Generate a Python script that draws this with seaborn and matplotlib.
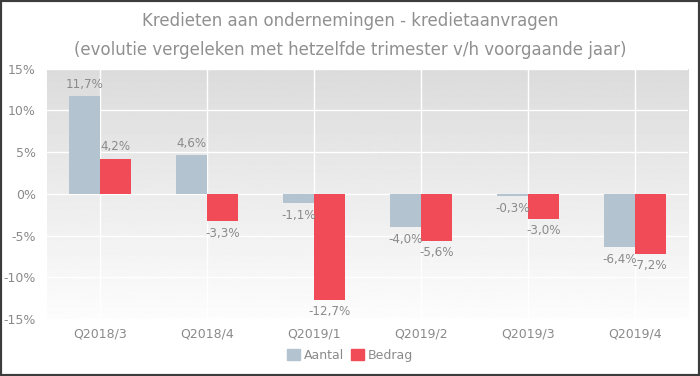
import numpy as np
import pandas as pd
import matplotlib.pyplot as plt
from matplotlib.patches import Rectangle
import seaborn as sns

# data
quarters = ["Q2018/3", "Q2018/4", "Q2019/1", "Q2019/2", "Q2019/3", "Q2019/4"]
aantal = [11.7, 4.6, -1.1, -4.0, -0.3, -6.4]
bedrag = [4.2, -3.3, -12.7, -5.6, -3.0, -7.2]
series = ["Aantal", "Bedrag"]
colors = ["#b4c3d0", "#f04b57"]
y_ticks = [-15, -10, -5, 0, 5, 10, 15]

df = pd.DataFrame({
    "kwartaal": quarters * 2,
    "reeks": ["Aantal"] * len(quarters) + ["Bedrag"] * len(quarters),
    "waarde": aantal + bedrag,
})

sns.set_style("white")
plt.rcParams["font.family"] = ["DejaVu Sans"]
grey = "#8a8a8a"

fig = plt.figure(figsize=(7, 3.76), dpi=100)
ax = fig.add_axes([0.067, 0.152, 0.916, 0.665])

# gradient background of the plot area (darker at the top)
grad = np.linspace(0.86, 0.99, 256).reshape(-1, 1)
ax.imshow(grad, cmap="gray", vmin=0, vmax=1, aspect="auto", origin="upper",
          extent=[0, 1, 0, 1], transform=ax.transAxes, zorder=0)

sns.barplot(data=df, x="kwartaal", y="waarde", hue="reeks", order=quarters,
            hue_order=series, palette=colors, width=0.58, gap=0,
            edgecolor="none", saturation=1, legend=False, ax=ax, zorder=3)

for cont, vals in zip(ax.containers, [aantal, bedrag]):
    labels = [f"{v:.1f}%".replace(".", ",") for v in vals]
    ax.bar_label(cont, labels=labels, padding=4, color=grey, fontsize=8.6)

ax.set_ylim(-15, 15)
ax.set_xlim(-0.5, len(quarters) - 0.5)
ax.set_yticks(y_ticks)
ax.set_yticklabels([f"{t}%" for t in y_ticks])
ax.set_xlabel("")
ax.set_ylabel("")
ax.tick_params(length=0, colors=grey, labelsize=9)
ax.tick_params(axis="y", pad=8)
ax.tick_params(axis="x", pad=6)

for t in y_ticks:
    ax.axhline(t, color="white", lw=1, zorder=1)
for i in range(len(quarters)):
    ax.axvline(i, color="white", lw=1, zorder=1)
ax.grid(False)
for s in ax.spines.values():
    s.set_visible(False)

fig.suptitle("Kredieten aan ondernemingen - kredietaanvragen\n"
             "(evolutie vergeleken met hetzelfde trimester v/h voorgaande jaar)",
             y=0.968, color="#909090", fontsize=12, linespacing=1.75)

handles = [Rectangle((0, 0), 1, 1, color=c) for c in colors]
fig.legend(handles, series, loc="center", bbox_to_anchor=(0.5, 0.055), ncol=2,
           frameon=False, handlelength=1, handleheight=1, handletextpad=0.3,
           columnspacing=0.6, labelcolor=grey, fontsize=9)

fig.patches.append(Rectangle((0, 0), 1, 1, transform=fig.transFigure,
                             fill=False, edgecolor="#3c3c3c", lw=3))

fig.savefig("out.png", dpi=100)
